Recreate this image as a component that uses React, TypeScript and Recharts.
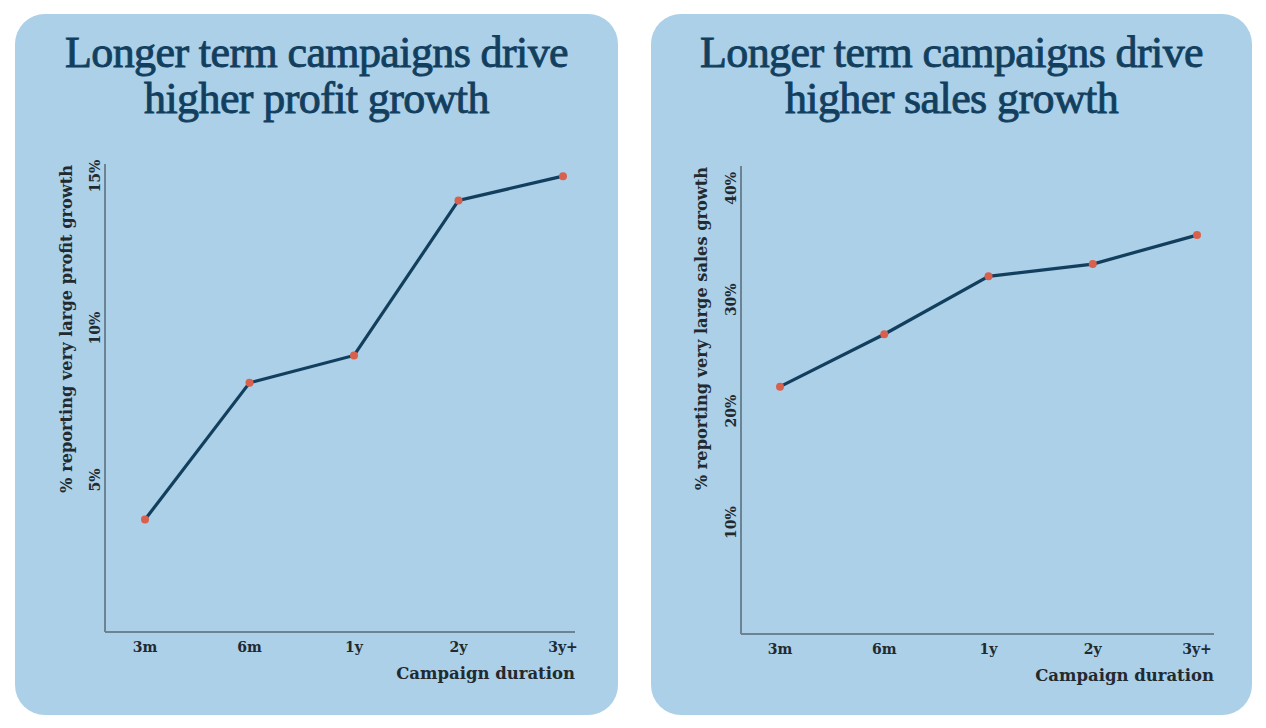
import React from "react";
import { LineChart, Line, XAxis, YAxis } from "recharts";

const durations = ["3m", "6m", "1y", "2y", "3y+"];
const profitGrowth = [3.7, 8.2, 9.1, 14.2, 15.0];
const salesGrowth = [22.2, 26.9, 32.1, 33.2, 35.8];
const profitTicks = [5, 10, 15];
const salesTicks = [10, 20, 30, 40];

const BG = "#abd0e8";
const NAVY = "#133f5f";
const DOT = "#d8604d";
const AXIS = "#6c8393";
const TEXT = "#222a30";
const SERIF = "'DejaVu Serif', serif";

const XTick = (props: any) => {
  const { x, y, payload } = props;
  return (
    <text x={x} y={y} dy={12} textAnchor="middle" fill={TEXT} fontFamily={SERIF} fontWeight="bold" fontSize={14}>
      {payload.value}
    </text>
  );
};

const YTick = (props: any) => {
  const { x, y, payload } = props;
  const tx = x + 3;
  return (
    <text x={tx} y={y} transform={`rotate(-90 ${tx} ${y})`} textAnchor="middle" fill={TEXT} fontFamily={SERIF} fontWeight="bold" fontSize={14}>
      {payload.value + "%"}
    </text>
  );
};

type PanelProps = {
  left: number;
  width: number;
  title: string[];
  yLabel: string;
  values: number[];
  ticks: number[];
  domainMax: number;
  padLeft: number;
  padRight: number;
  plotWidth: number;
  plotTop: number;
  yLabelLeft: number;
};

function Panel(p: PanelProps) {
  const data = durations.map((d, i) => ({ name: d, value: p.values[i] }));
  return (
    <div
      style={{
        position: "absolute",
        left: p.left,
        top: 14,
        width: p.width,
        height: 701,
        background: BG,
        borderRadius: 30,
      }}
    >
      <div
        style={{
          position: "absolute",
          left: 0,
          top: 16,
          width: "100%",
          textAlign: "center",
          fontFamily: "'Liberation Serif', serif",
          fontSize: 44,
          lineHeight: "46px",
          color: NAVY,
          letterSpacing: -0.6,
          WebkitTextStroke: "0.9px " + NAVY,
        }}
      >
        {p.title.map((t) => (
          <div key={t}>{t}</div>
        ))}
      </div>
      <div style={{ position: "absolute", left: 0, top: 126 }}>
        <LineChart
          width={p.width}
          height={560}
          data={data}
          margin={{ top: p.plotTop, right: p.width - 90 - p.plotWidth, left: 40, bottom: 62 - p.plotTop }}
        >
          <XAxis
            dataKey="name"
            axisLine={{ stroke: AXIS, strokeWidth: 2 }}
            tickLine={false}
            tick={<XTick />}
            height={30}
            padding={{ left: p.padLeft, right: p.padRight }}
            interval={0}
            label={(lp: any) => {
              const vb = lp.viewBox;
              return (
                <text x={vb.x + vb.width} y={vb.y + 47} textAnchor="end" fill={TEXT} fontFamily={SERIF} fontWeight="bold" fontSize={16.5}>
                  Campaign duration
                </text>
              );
            }}
          />
          <YAxis
            domain={[0, p.domainMax]}
            ticks={p.ticks}
            axisLine={{ stroke: AXIS, strokeWidth: 2 }}
            tickLine={false}
            tick={<YTick />}
            width={50}
            label={(lp: any) => {
              const vb = lp.viewBox;
              const lx = p.yLabelLeft;
              const ly = vb.y + 1;
              return (
                <text x={lx} y={ly} transform={`rotate(-90 ${lx} ${ly})`} textAnchor="end" fill={TEXT} fontFamily={SERIF} fontWeight="bold" fontSize={16.2}>
                  {p.yLabel}
                </text>
              );
            }}
          />
          <Line
            dataKey="value"
            type="linear"
            stroke={NAVY}
            strokeWidth={3.2}
            dot={{ r: 4, fill: DOT, stroke: "none" }}
            isAnimationActive={false}
          />
        </LineChart>
      </div>
    </div>
  );
}

export default function App() {
  return (
    <div style={{ position: "absolute", left: 0, top: 0, width: 1266, height: 728, background: "#ffffff" }}>
      <Panel
        left={15}
        width={603}
        title={["Longer term campaigns drive", "higher profit growth"]}
        yLabel="% reporting very large profit growth"
        values={profitGrowth}
        ticks={profitTicks}
        domainMax={15.4}
        padLeft={40}
        padRight={12}
        plotWidth={470}
        plotTop={24}
        yLabelLeft={57}
      />
      <Panel
        left={651}
        width={601}
        title={["Longer term campaigns drive", "higher sales growth"]}
        yLabel="% reporting very large sales growth"
        values={salesGrowth}
        ticks={salesTicks}
        domainMax={42}
        padLeft={39}
        padRight={17}
        plotWidth={473}
        plotTop={26}
        yLabelLeft={56}
      />
    </div>
  );
}
